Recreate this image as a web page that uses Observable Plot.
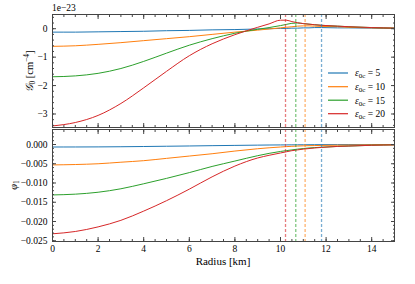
<!DOCTYPE html>
<html><head><meta charset="utf-8">
<script src="https://cdn.jsdelivr.net/npm/d3@7"></script>
<script src="https://cdn.jsdelivr.net/npm/@observablehq/plot@0.6"></script>
<style>
body{margin:0;background:#fff;}
#fig{position:relative;width:415px;height:284px;}
#fig svg{position:absolute;left:0;}
#fig text, #fig tspan{font-family:"Liberation Serif","Times New Roman",Times,"DejaVu Serif",serif !important;}
</style></head><body><div id="fig"></div>
<script>
// ---- data ----
const radius = [0,1,2,3,4,5,6,7,8,9,9.5,10,10.25,10.5,10.75,11,11.25,11.5,11.8,12.5,13,14,15];
const epsilons = [5,10,15,20];
const colors = ["#1f77b4","#ff7f0e","#2ca02c","#d62728"];
const surfaceRadius = [11.80, 11.08, 10.67, 10.22];
// G0 in units of 1e-23 cm^-4
const G0_e5  = [-0.12,-0.12,-0.11,-0.10,-0.09,-0.07,-0.06,-0.04,-0.03,-0.01,0.0,0.01,0.01,0.02,0.02,0.03,0.03,0.04,0.04,0.03,0.03,0.02,0.01];
const G0_e10 = [-0.62,-0.60,-0.55,-0.49,-0.42,-0.35,-0.28,-0.20,-0.12,-0.05,-0.01,0.03,0.05,0.07,0.09,0.10,0.10,0.09,0.08,0.07,0.05,0.03,0.02];
const G0_e15 = [-1.69,-1.66,-1.57,-1.40,-1.15,-0.86,-0.58,-0.35,-0.16,-0.02,0.04,0.11,0.15,0.19,0.20,0.18,0.16,0.14,0.12,0.09,0.07,0.04,0.02];
const G0_e20 = [-3.42,-3.30,-3.05,-2.63,-2.08,-1.50,-0.95,-0.53,-0.21,0.05,0.17,0.30,0.30,0.25,0.21,0.18,0.16,0.14,0.12,0.09,0.07,0.04,0.02];
const phi1_e5  = [-0.00065,-0.00064,-0.00062,-0.00058,-0.00052,-0.00045,-0.00038,-0.00030,-0.00023,-0.00016,-0.00013,-0.00011,-0.00010,-0.00009,-0.00008,-0.00007,-0.00006,-0.00005,-0.00004,-0.00003,-0.00002,-0.00001,0];
const phi1_e10 = [-0.0053,-0.0052,-0.0050,-0.0046,-0.0042,-0.0036,-0.0030,-0.0024,-0.0017,-0.0011,-0.00085,-0.00065,-0.00055,-0.00047,-0.00040,-0.00035,-0.00030,-0.00027,-0.00024,-0.00018,-0.00014,-0.00008,-0.00004];
const phi1_e15 = [-0.0131,-0.0129,-0.0124,-0.0115,-0.0102,-0.0088,-0.0073,-0.0057,-0.0043,-0.0029,-0.0023,-0.0018,-0.0016,-0.0014,-0.0012,-0.00105,-0.0009,-0.0008,-0.0007,-0.0005,-0.0004,-0.0002,-0.0001];
const phi1_e20 = [-0.0232,-0.0226,-0.0214,-0.0197,-0.0173,-0.0146,-0.0116,-0.0084,-0.0056,-0.0035,-0.0028,-0.0022,-0.0019,-0.0016,-0.0014,-0.0012,-0.00105,-0.0009,-0.00075,-0.0005,-0.0004,-0.0002,-0.0001];
const xMajorTicks = [0,2,4,6,8,10,12,14];
const xMinorTicks = d3.range(0, 15.001, 0.5);
const G0Ticks = [0,-1,-2,-3];
const G0MinorTicks = d3.range(0.4, -3.5, -0.2);
const phi1Ticks = [0,-0.005,-0.010,-0.015,-0.020,-0.025];
const phi1MinorTicks = d3.range(0.003, -0.0255, -0.001);

// ---- build tables ----
const G0 = [G0_e5, G0_e10, G0_e15, G0_e20];
const phi1 = [phi1_e5, phi1_e10, phi1_e15, phi1_e20];
const toRows = series => series.flatMap((vals,i) => radius.map((r,j) => ({r, v: vals[j], eps: epsilons[i]})));
const G0Rows = toRows(G0), phiRows = toRows(phi1);
const surface = epsilons.map((e,i) => ({eps: e, r: surfaceRadius[i]}));

const axisColor = "#444";
function frameAxes(yMajor, yMinor, yFmt, showX) {
  const none = () => "";
  return [
    Plot.axisX({anchor:"bottom", ticks: xMajorTicks, tickSize: -4, tickFormat: none, label: null, stroke: axisColor}),
    Plot.axisX({anchor:"bottom", ticks: xMinorTicks, tickSize: -2, tickFormat: none, label: null, stroke: axisColor}),
    Plot.axisX({anchor:"top", ticks: xMajorTicks, tickSize: -4, tickFormat: none, label: null, stroke: axisColor}),
    Plot.axisX({anchor:"top", ticks: xMinorTicks, tickSize: -2, tickFormat: none, label: null, stroke: axisColor}),
    ...(showX ? [Plot.axisX({anchor:"bottom", ticks: xMajorTicks, tickSize: 0, tickPadding: 4, label: null, tickFormat: d => String(d)})] : []),
    Plot.axisY({anchor:"left", ticks: yMajor, tickSize: -4, tickFormat: none, label: null, stroke: axisColor}),
    Plot.axisY({anchor:"left", ticks: yMinor, tickSize: -2, tickFormat: none, label: null, stroke: axisColor}),
    Plot.axisY({anchor:"right", ticks: yMajor, tickSize: -4, tickFormat: none, label: null, stroke: axisColor}),
    Plot.axisY({anchor:"right", ticks: yMinor, tickSize: -2, tickFormat: none, label: null, stroke: axisColor}),
    Plot.axisY({anchor:"left", ticks: yMajor, tickSize: 0, tickPadding: 5, label: null, tickFormat: yFmt}),
    Plot.frame({stroke: axisColor, strokeWidth: 1})
  ];
}

const common = {
  width: 415, marginLeft: 52, marginRight: 21,
  style: {fontFamily: '"Liberation Serif", serif', fontSize: "9.5px", background: "transparent", overflow: "visible", color: "#000"},
  color: {type: "ordinal", domain: epsilons, range: colors}
};

const minus = d => d === 0 ? "0" : (d < 0 ? "\u2212" : "") + Math.abs(d);
const dashed = {x: "r", stroke: "eps", strokeDasharray: "3,2", strokeWidth: 1.3, strokeOpacity: 0.6};

const topPanel = Plot.plot({
  ...common, height: 128, marginTop: 14, marginBottom: 1,
  x: {domain: [0,15], axis: null},
  y: {domain: [-3.475, 0.5], axis: null},
  marks: [
    Plot.line(G0Rows, {x: "r", y: "v", z: "eps", stroke: "eps", curve: "monotone-x", strokeWidth: 1}),
    Plot.ruleX(surface, dashed),
    ...frameAxes(G0Ticks, G0MinorTicks, minus, false)
  ]
});
topPanel.style.top = "0px";

const fmt3 = d3.format(".3f");
const bottomPanel = Plot.plot({
  ...common, height: 156, marginTop: 1, marginBottom: 43,
  x: {domain: [0,15], axis: null},
  y: {domain: [-0.0252, 0.0039], axis: null},
  marks: [
    Plot.line(phiRows, {x: "r", y: "v", z: "eps", stroke: "eps", curve: "monotone-x", strokeWidth: 1}),
    Plot.ruleX(surface, dashed),
    ...frameAxes(phi1Ticks, phi1MinorTicks, d => d === 0 ? "0.000" : fmt3(d), true)
  ]
});
bottomPanel.style.top = "128px";

const fig = document.getElementById("fig");
fig.appendChild(topPanel);
fig.appendChild(bottomPanel);

// ---- text overlay: labels, offset text, legend ----
const ns = "http://www.w3.org/2000/svg";
const ov = document.createElementNS(ns, "svg");
ov.setAttribute("width", 415); ov.setAttribute("height", 284);
ov.style.top = "0px";
ov.innerHTML = `
  <text x="52" y="11" font-size="9.5">1e\u221223</text>
  <text transform="translate(33,71) rotate(-90)" text-anchor="middle" font-size="10.5"><tspan font-style="italic">\uD835\uDCA2</tspan><tspan font-size="7.5" dy="2">0</tspan><tspan dy="-2"> [cm</tspan><tspan font-size="7.5" dy="-4">\u22124</tspan><tspan dy="4">]</tspan></text>
  <text transform="translate(17,185) rotate(-90)" text-anchor="middle" font-size="10.5"><tspan font-style="italic">\u03C6</tspan><tspan font-size="7.5" dy="2">1</tspan></text>
  <text x="223" y="265" text-anchor="middle" font-size="11">Radius [km]</text>
`;
const legend = document.createElementNS(ns, "g");
const legY = [73, 86.7, 100.2, 113.7];
epsilons.forEach((e, i) => {
  const g = document.createElementNS(ns, "g");
  g.innerHTML = `<line x1="328" x2="348" y1="${legY[i]}" y2="${legY[i]}" stroke="${colors[i]}" stroke-width="1.2"/>
    <text x="355" y="${legY[i] + 3.3}" font-size="9.5"><tspan font-style="italic">\u03B5</tspan><tspan font-size="7" dy="2">0c</tspan><tspan dy="-2"> = ${e}</tspan></text>`;
  legend.appendChild(g);
});
ov.appendChild(legend);
fig.appendChild(ov);
</script></body></html>
